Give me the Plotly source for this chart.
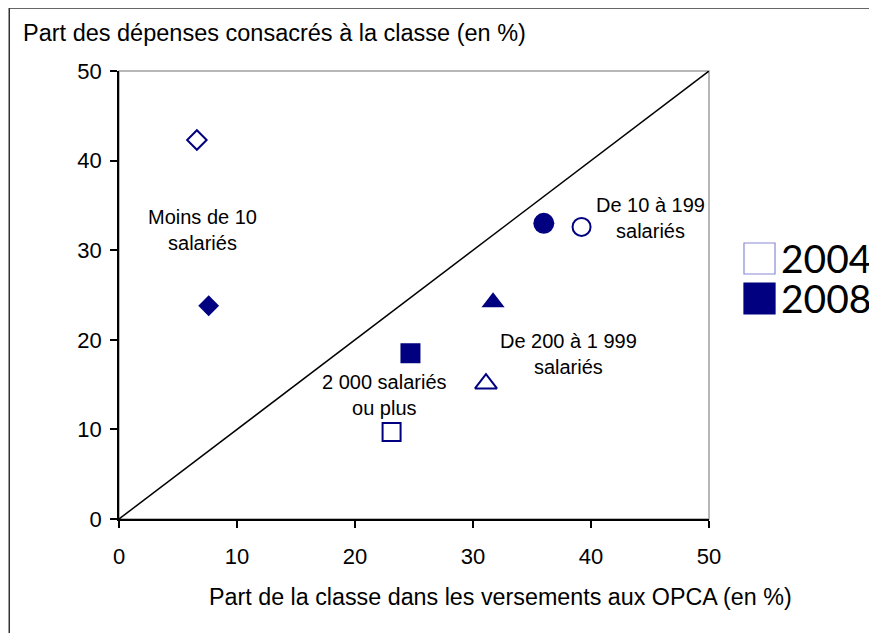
import plotly.graph_objects as go

# ── Data ──────────────────────────────────────────────────────────────────
CLASSES = ["Moins de 10 salariés", "De 10 à 199 salariés",
           "De 200 à 1 999 salariés", "2 000 salariés ou plus"]
VERSEMENTS_2004 = [6.6, 39.2, 31.1, 23.1]
DEPENSES_2004 = [42.3, 32.6, 15.1, 9.7]
VERSEMENTS_2008 = [7.6, 36.0, 31.7, 24.7]
DEPENSES_2008 = [23.8, 33.0, 24.2, 18.5]
SYMBOLS = ["diamond", "circle", "triangle-up", "square"]

LABELS = ["Moins de 10<br>salariés", "De 10 à 199<br>salariés",
          "De 200 à 1 999<br>salariés", "2 000 salariés<br>ou plus"]
LABEL_X = [7.1, 45.0, 38.1, 22.5]
LABEL_Y = [32.3, 33.6, 18.4, 13.8]

YEARS = ["2004", "2008"]

DIAG = [0, 50]
TICKS = [0, 10, 20, 30, 40, 50]

NAVY = "#000080"
FONT = "Liberation Sans, Arial, sans-serif"

fig = go.Figure()

fig.add_trace(go.Scatter(
    x=DIAG, y=DIAG, mode="lines",
    line=dict(color="black", width=1.5),
    showlegend=False, hoverinfo="skip",
))

fig.add_trace(go.Scatter(
    x=VERSEMENTS_2004, y=DEPENSES_2004, mode="markers", name=YEARS[0],
    marker=dict(symbol=[s + "-open" for s in SYMBOLS], size=[15, 18, 19, 18],
                color=NAVY, opacity=1, line=dict(color=NAVY, width=2)),
    text=CLASSES, showlegend=False,
))
fig.add_trace(go.Scatter(
    x=VERSEMENTS_2008, y=DEPENSES_2008, mode="markers", name=YEARS[1],
    marker=dict(symbol=SYMBOLS, size=[16, 21, 20, 20], color=NAVY, opacity=1,
                line=dict(color=NAVY, width=0)),
    text=CLASSES, showlegend=False,
))

for txt, lx, ly in zip(LABELS, LABEL_X, LABEL_Y):
    fig.add_annotation(x=lx, y=ly, text=txt, showarrow=False,
                       font=dict(size=20, color="black", family=FONT))

fig.add_annotation(xref="paper", yref="paper", x=-0.166, y=1.085,
                   xanchor="left", yanchor="middle", showarrow=False,
                   text="Part des dépenses consacrés à la classe (en %)",
                   font=dict(size=23.5, color="black", family=FONT))
fig.add_annotation(xref="paper", yref="paper", x=0.646, y=-0.174,
                   xanchor="center", yanchor="middle", showarrow=False,
                   text="Part de la classe dans les versements aux OPCA (en %)",
                   font=dict(size=23.3, color="black", family=FONT))

# legend drawn by hand (big squares, big Calibri-like text)
legend_rows = [
    dict(y0=0.5469, y1=0.6161, ty=0.5826, fill="white", edge="#8a8ad8"),
    dict(y0=0.4576, y1=0.5268, ty=0.4933, fill=NAVY, edge=NAVY),
]
for year, row in zip(YEARS, legend_rows):
    fig.add_shape(type="rect", xref="paper", yref="paper",
                  x0=1.0593, x1=1.1119, y0=row["y0"], y1=row["y1"],
                  fillcolor=row["fill"], line=dict(color=row["edge"], width=1.2))
    fig.add_annotation(xref="paper", yref="paper", x=1.1205, y=row["ty"],
                       xanchor="left", yanchor="middle", showarrow=False,
                       height=36, valign="middle", borderpad=0,
                       text=year, font=dict(size=39, color="black", family="Lato, sans-serif"))

# plot frame: gray top/right
fig.add_shape(type="rect", xref="x domain", yref="y domain", x0=0, y0=0, x1=1, y1=1,
              line=dict(color="#a0a0a0", width=1.5), layer="below")
# outer frame (cropped: left and top only)
fig.add_shape(type="line", xref="paper", yref="paper", x0=-0.186, x1=-0.186, y0=-0.3, y1=1.1425,
              line=dict(color="#333333", width=1.5))
fig.add_shape(type="line", xref="paper", yref="paper", x0=-0.186, x1=1.4, y0=1.1405, y1=1.1405,
              line=dict(color="#333333", width=1.5))

axis_common = dict(
    range=[0, 50], tickvals=TICKS, showgrid=False, zeroline=False,
    showline=True, linecolor="black", linewidth=1.5,
    ticks="outside", ticklen=7, tickcolor="black", tickwidth=1.5,
    tickfont=dict(size=22, color="black", family=FONT),
)

fig.update_layout(
    width=869, height=625,
    margin=dict(l=111, r=168, t=63, b=114, autoexpand=False),
    plot_bgcolor="white", paper_bgcolor="white",
    font=dict(family=FONT, color="black"),
    xaxis=dict(**axis_common, ticklabelstandoff=10),
    yaxis=dict(**axis_common, ticklabelstandoff=4),
    showlegend=False,
)

fig.write_html("out.html")
